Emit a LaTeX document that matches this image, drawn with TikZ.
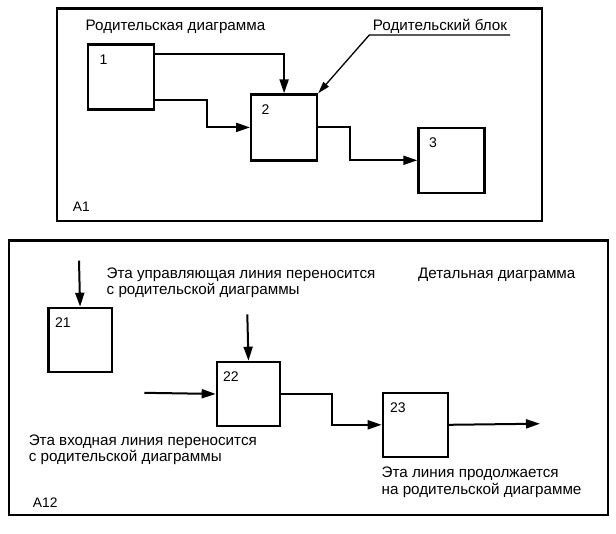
\documentclass[tikz,border=0pt]{standalone}
\usepackage{fontspec}
\setmainfont{Liberation Sans}
\usetikzlibrary{arrows.meta}
\begin{document}
\begin{tikzpicture}[x=1pt,y=-1pt,
  frame/.style={draw,line width=2.2pt},
  blk/.style={draw,line width=2.2pt,rectangle,anchor=north west,inner sep=0pt},
  num/.style={anchor=west,inner sep=0pt,font=\fontsize{14}{16}\selectfont},
  txt/.style={anchor=base west,inner sep=0pt,font=\fontsize{15.2}{18}\selectfont},
  lbl/.style={anchor=base west,inner sep=0pt,font=\fontsize{13.8}{16}\selectfont},
  conn/.style={line width=2pt,-{Triangle[length=14pt,width=9pt]}},
  lead/.style={line width=1.3pt,-{Triangle[length=12pt,width=7pt]}}
]
\useasboundingbox (0,0) rectangle (616,533);
% frames
\draw[frame] (57,8.5) rectangle (542,221);
\draw[frame] (9,240.5) rectangle (608.3,515);

% top diagram boxes
\node[blk,minimum width=66pt,minimum height=65pt] (b1) at (86.7,43.3) {};
\node[blk,minimum width=66pt,minimum height=66pt] (b2) at (250,93.3) {};
\node[blk,minimum width=66pt,minimum height=65pt] (b3) at (417.3,126.7) {};
\node[num] (n1) at (99.5,59.5) {1};
\node[num] (n2) at (261.5,109.5) {2};
\node[num] (n3) at (428.8,142.5) {3};

% top texts
\node[txt] (tpd) at (85.5,30) {Родительская диаграмма};
\node[txt] (tpb) at (372.7,30.5) {Родительский блок};
\node[lbl] (ta1) at (72.7,211.7) {A1};

% top connectors
\draw[conn] ([yshift=-11pt]b1.north east) -| (b2.north);
\draw[conn] ([yshift=-23.3pt]b1.east) -- ++(52.3,0) |- (b2.west);
\draw[conn] (b2.east) -- ++(31.7,0) |- (b3.west);
\coordinate (le) at (510,35);
\coordinate (lk) at (369.3,35);
\draw[lead] (le) -- (lk) -- (b2.north east);

% bottom diagram boxes
\node[blk,minimum width=63.4pt,minimum height=64.3pt] (b21) at (47.3,306.7) {};
\node[blk,minimum width=63.3pt,minimum height=64.3pt] (b22) at (215.7,360.7) {};
\node[blk,minimum width=65pt,minimum height=64pt] (b23) at (381.7,391.7) {};
\node[num] (n21) at (55,322.7) {21};
\node[num] (n22) at (223,377) {22};
\node[num] (n23) at (390,407.7) {23};

% bottom texts
\node[txt] (tc1) at (106.5,278) {Эта управляющая линия переносится};
\node[txt] (tc2) at (106.5,294) {с родительской диаграммы};
\node[txt] (tdd) at (418,278) {Детальная диаграмма};
\node[txt] (ti1) at (28.6,445) {Эта входная линия переносится};
\node[txt] (ti2) at (28.6,461.5) {с родительской диаграммы};
\node[txt] (to1) at (381.5,477.5) {Эта линия продолжается};
\node[txt] (to2) at (381.5,494) {на родительской диаграмме};
\node[lbl] (ta12) at (32.7,507.3) {A12};

% bottom connectors
\coordinate (c21) at (79,260.7);
\draw[conn] (c21) -- (b21.north);
\coordinate (c22) at (247.3,314.3);
\draw[conn] (c22) -- (b22.north);
\coordinate (i22) at (144.3,392.8);
\draw[conn] (i22) -- (b22.west);
\draw[conn] (b22.east) -- ++(51,0) |- (b23.west);
\coordinate (o23) at (540,423.7);
\draw[conn] (b23.east) -- (o23);
\end{tikzpicture}
\end{document}
